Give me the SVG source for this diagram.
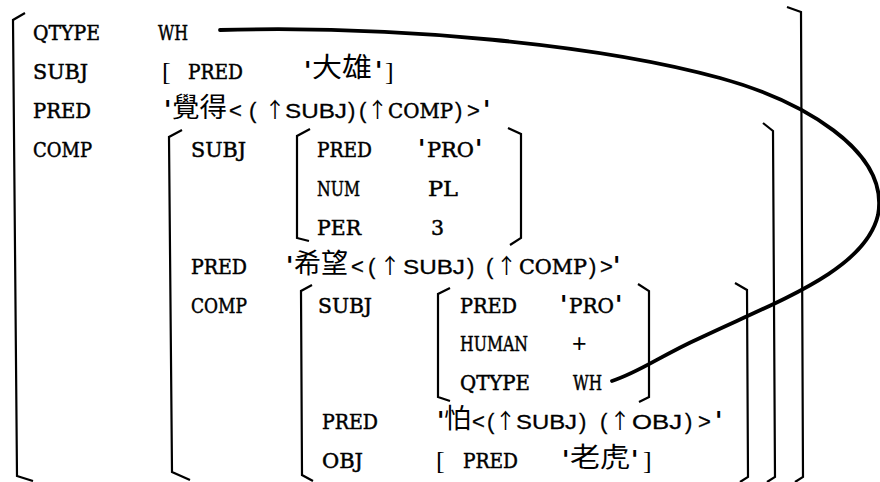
<svg xmlns="http://www.w3.org/2000/svg" width="880" height="482" viewBox="0 0 880 482">
<style>
.br{fill:none;stroke:#000;stroke-width:2.2;stroke-linejoin:miter;stroke-linecap:butt}
.lb{font-family:"DejaVu Serif","Liberation Serif",serif;font-size:20.5px;fill:#000;stroke:#000;stroke-width:0.5}
.sn{font-family:"Liberation Sans","DejaVu Sans",sans-serif;font-size:20.5px;fill:#000;stroke:#000;stroke-width:0.3}
.pu{font-family:"Liberation Sans","DejaVu Sans",sans-serif;font-size:22px;fill:#000;stroke:#000;stroke-width:0.3}
.pl{font-family:"Liberation Sans","DejaVu Sans",sans-serif;font-size:25px;fill:#000}
.ar{font-family:"Noto Sans CJK TC","Noto Sans CJK SC",sans-serif;font-size:21px;fill:#000}
.ap{font-family:"DejaVu Sans",sans-serif;font-weight:bold;font-size:24px;fill:#000}
.cj{font-family:"Noto Sans CJK TC","Noto Sans CJK SC",sans-serif;font-size:27px;fill:#000}
.sq{font-family:"Liberation Serif",serif;font-size:26px;fill:#000}
.link{fill:none;stroke:#000;stroke-width:3.8;stroke-linecap:round}
</style>
<rect width="880" height="482" fill="#fff"/>

<g id="fs-main">
  <path class="br" d="M25,13 L13,20 L17,476 L33,481"/>
  <path class="br" d="M787,7 L801,12 L803,477 L795,482"/>
  <text class="lb" x="33" y="40" textLength="67" lengthAdjust="spacingAndGlyphs">QTYPE</text>
  <text class="lb" x="158" y="40" textLength="30" lengthAdjust="spacingAndGlyphs">WH</text>
  <text class="lb" x="33" y="79" textLength="55" lengthAdjust="spacingAndGlyphs">SUBJ</text>
  <text class="lb" x="33" y="118" textLength="58" lengthAdjust="spacingAndGlyphs">PRED</text>
  <text class="lb" x="33" y="157" textLength="59" lengthAdjust="spacingAndGlyphs">COMP</text>
</g>

<g id="fs-subj-daxiong">
  <text class="sq" x="162" y="80">[</text>
  <text class="lb" x="188" y="79" textLength="55" lengthAdjust="spacingAndGlyphs">PRED</text>
  <text class="ap" x="304" y="79">'</text>
  <text class="cj" x="312" y="77" textLength="60" lengthAdjust="spacingAndGlyphs">大雄</text>
  <text class="ap" x="375" y="79">'</text>
  <text class="sq" x="385" y="80">]</text>
</g>

<g id="pred-juede">
  <text class="ap" x="164" y="118">'</text>
  <text class="cj" x="172" y="117" textLength="55" lengthAdjust="spacingAndGlyphs">覺得</text>
  <text class="pu" x="229" y="118">&lt;</text>
  <text class="pu" x="249" y="118">(</text>
  <text class="ar" x="264.5" y="117">↑</text>
  <text class="sn" x="285" y="118" textLength="62" lengthAdjust="spacingAndGlyphs">SUBJ</text>
  <text class="pu" x="348" y="118">)</text>
  <text class="pu" x="359" y="118">(</text>
  <text class="ar" x="367" y="117">↑</text>
  <text class="lb" x="388" y="118" textLength="65" lengthAdjust="spacingAndGlyphs">COMP</text>
  <text class="pu" x="455" y="118">)</text>
  <text class="pu" x="467" y="118">&gt;</text>
  <text class="ap" x="483" y="118">'</text>
</g>

<g id="fs-comp1">
  <path class="br" d="M182,130 L169,137 L172,472 L190,480"/>
  <path class="br" d="M763,123 L773,131 L775,477 L767,482"/>
  <text class="lb" x="191" y="157" textLength="55" lengthAdjust="spacingAndGlyphs">SUBJ</text>
  <text class="lb" x="191" y="273.5" textLength="56" lengthAdjust="spacingAndGlyphs">PRED</text>
  <text class="lb" x="191" y="312.5" textLength="56" lengthAdjust="spacingAndGlyphs">COMP</text>
</g>

<g id="fs-subj-pro-pl">
  <path class="br" d="M310,129 L297,136 L297,238 L309,241"/>
  <path class="br" d="M508,128 L521,134 L521,238 L510,245"/>
  <text class="lb" x="317" y="157" textLength="55" lengthAdjust="spacingAndGlyphs">PRED</text>
  <text class="ap" x="418" y="157">'</text>
  <text class="lb" x="427" y="157" textLength="47" lengthAdjust="spacingAndGlyphs">PRO</text>
  <text class="ap" x="475" y="157">'</text>
  <text class="lb" x="317" y="196" textLength="43" lengthAdjust="spacingAndGlyphs">NUM</text>
  <text class="lb" x="428" y="196" textLength="30" lengthAdjust="spacingAndGlyphs">PL</text>
  <text class="lb" x="317" y="234.5" textLength="44" lengthAdjust="spacingAndGlyphs">PER</text>
  <text class="lb" x="431" y="234.5">3</text>
</g>

<g id="pred-xiwang">
  <text class="ap" x="286" y="273.5">'</text>
  <text class="cj" x="294" y="272.5" textLength="54" lengthAdjust="spacingAndGlyphs">希望</text>
  <text class="pu" x="351" y="273.5">&lt;</text>
  <text class="pu" x="368" y="273.5">(</text>
  <text class="ar" x="379.5" y="272.5">↑</text>
  <text class="sn" x="403" y="273.5" textLength="62" lengthAdjust="spacingAndGlyphs">SUBJ</text>
  <text class="pu" x="467" y="273.5">)</text>
  <text class="pu" x="486" y="273.5">(</text>
  <text class="ar" x="496" y="272.5">↑</text>
  <text class="lb" x="519" y="273.5" textLength="68" lengthAdjust="spacingAndGlyphs">COMP</text>
  <text class="pu" x="589" y="273.5">)</text>
  <text class="pu" x="600" y="273.5">&gt;</text>
  <text class="ap" x="613" y="273.5">'</text>
</g>

<g id="fs-comp2">
  <path class="br" d="M312,285 L301,291 L302,475 L313,481"/>
  <path class="br" d="M735,283 L747,290 L748,477 L740,482"/>
  <text class="lb" x="318" y="312.5" textLength="54" lengthAdjust="spacingAndGlyphs">SUBJ</text>
  <text class="lb" x="322" y="429" textLength="56" lengthAdjust="spacingAndGlyphs">PRED</text>
  <text class="lb" x="322" y="468" textLength="41" lengthAdjust="spacingAndGlyphs">OBJ</text>
</g>

<g id="fs-subj-pro-wh">
  <path class="br" d="M450,288 L438,294 L438,397 L450,401"/>
  <path class="br" d="M638,284 L649,291 L649,397 L639,402"/>
  <text class="lb" x="460" y="312.5" textLength="57" lengthAdjust="spacingAndGlyphs">PRED</text>
  <text class="ap" x="560" y="312.5">'</text>
  <text class="lb" x="569" y="312.5" textLength="45" lengthAdjust="spacingAndGlyphs">PRO</text>
  <text class="ap" x="615" y="312.5">'</text>
  <text class="lb" x="460" y="351" textLength="68" lengthAdjust="spacingAndGlyphs">HUMAN</text>
  <text class="pl" x="572" y="352">+</text>
  <text class="lb" x="460" y="390" textLength="70" lengthAdjust="spacingAndGlyphs">QTYPE</text>
  <text class="lb" x="573" y="390" textLength="29" lengthAdjust="spacingAndGlyphs">WH</text>
</g>

<g id="pred-pa">
  <text class="ap" x="437" y="429">'</text>
  <text class="cj" x="444" y="428">怕</text>
  <text class="pu" x="472" y="429">&lt;</text>
  <text class="pu" x="487" y="429">(</text>
  <text class="ar" x="495" y="428">↑</text>
  <text class="sn" x="516" y="429" textLength="61" lengthAdjust="spacingAndGlyphs">SUBJ</text>
  <text class="pu" x="579" y="429">)</text>
  <text class="pu" x="600" y="429">(</text>
  <text class="ar" x="609.5" y="428">↑</text>
  <text class="sn" x="632" y="429" textLength="50" lengthAdjust="spacingAndGlyphs">OBJ</text>
  <text class="pu" x="685" y="429">)</text>
  <text class="pu" x="698" y="429">&gt;</text>
  <text class="ap" x="715" y="429">'</text>
</g>

<g id="fs-obj-laohu">
  <text class="sq" x="436" y="469">[</text>
  <text class="lb" x="463" y="468" textLength="55" lengthAdjust="spacingAndGlyphs">PRED</text>
  <text class="ap" x="562" y="468">'</text>
  <text class="cj" x="570" y="467" textLength="60" lengthAdjust="spacingAndGlyphs">老虎</text>
  <text class="ap" x="631" y="468">'</text>
  <text class="sq" x="643" y="469">]</text>
</g>

<g id="connectors">
  <path class="link" d="M220,30 C400,25 600,45 720,78 C800,100 890,150 878,215 C865,270 780,300 700,338 C660,356 640,372 612,381"/>
</g>
</svg>
